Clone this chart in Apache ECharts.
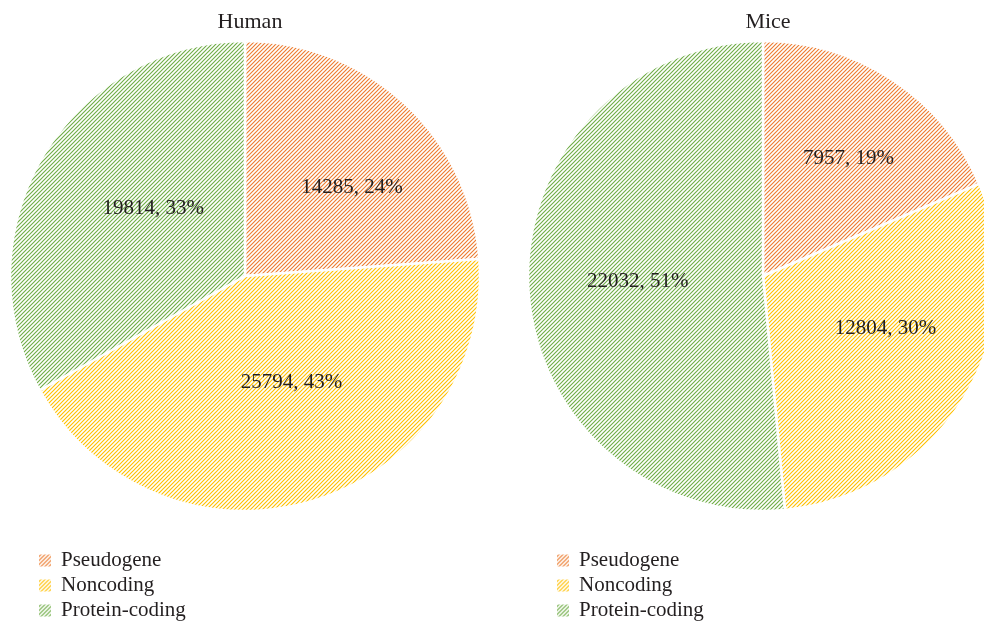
<!DOCTYPE html>
<html><head><meta charset="utf-8">
<script src="https://cdn.jsdelivr.net/npm/echarts@6/dist/echarts.min.js"></script>
<style>html,body{margin:0;padding:0;background:#fff}#c{width:984px;height:624px}</style>
</head><body><div id="c"></div>
<script>
const categories = ['Pseudogene', 'Noncoding', 'Protein-coding'];
const humanValues = [14285, 25794, 19814];
const miceValues = [7957, 12804, 22032];
const titles = ['Human', 'Mice'];
const baseColors = ['#ED7D31', '#FFC000', '#70AD47'];

function hatch(color) {
  const s = 4;
  const c = document.createElement('canvas');
  c.width = s; c.height = s;
  const g = c.getContext('2d');
  g.fillStyle = '#fff'; g.fillRect(0, 0, s, s);
  g.strokeStyle = color; g.lineWidth = 1.15;
  g.beginPath();
  g.moveTo(-1, s + 1); g.lineTo(s + 1, -1);
  g.moveTo(-1, 1); g.lineTo(1, -1);
  g.moveTo(s - 1, s + 1); g.lineTo(s + 1, s - 1);
  g.stroke();
  return { image: c, repeat: 'repeat' };
}
const patterns = baseColors.map(hatch);

const humanOffsets = [[25, 0], [12, -9], [12, -6]];
const miceOffsets = [[19, -17], [19, -9], [-5, 0]];

function buildData(values, offsets) {
  return categories.map((n, i) => ({
    name: n, value: values[i],
    itemStyle: { color: patterns[i] },
    label: { offset: offsets[i] }
  }));
}

const font = 'Liberation Serif, DejaVu Serif, serif';
function pie(center, values, offsets) {
  return {
    type: 'pie', radius: 235, center: center, startAngle: 90, clockwise: true,
    percentPrecision: 0,
    itemStyle: { borderColor: '#fff', borderWidth: 2.5 },
    label: { show: true, position: 'inside', formatter: '{c}, {d}%', color: '#231f20', fontFamily: font, fontSize: 21 },
    labelLine: { show: false },
    emphasis: { disabled: true },
    data: buildData(values, offsets),
    animation: false
  };
}

const legendBase = {
  orient: 'vertical', top: 550, height: 90, padding: 0, itemWidth: 14, itemHeight: 14, itemGap: 4,
  icon: 'rect', data: categories, selectedMode: false,
  textStyle: { fontFamily: font, fontSize: 21, color: '#231f20', padding: [0, 0, 0, 4] }
};

const chart = echarts.init(document.getElementById('c'), null, { renderer: 'canvas' });
chart.setOption({
  backgroundColor: '#fff',
  animation: false,
  title: [
    { text: titles[0], left: 245, top: 6, textAlign: 'center', textStyle: { fontFamily: font, fontSize: 22, fontWeight: 'normal', color: '#231f20' } },
    { text: titles[1], left: 763, top: 6, textAlign: 'center', textStyle: { fontFamily: font, fontSize: 22, fontWeight: 'normal', color: '#231f20' } }
  ],
  legend: [
    Object.assign({ left: 37 }, legendBase),
    Object.assign({ left: 555 }, legendBase)
  ],
  series: [
    pie([245, 276], humanValues, humanOffsets),
    pie([763, 276], miceValues, miceOffsets)
  ]
});
</script></body></html>
